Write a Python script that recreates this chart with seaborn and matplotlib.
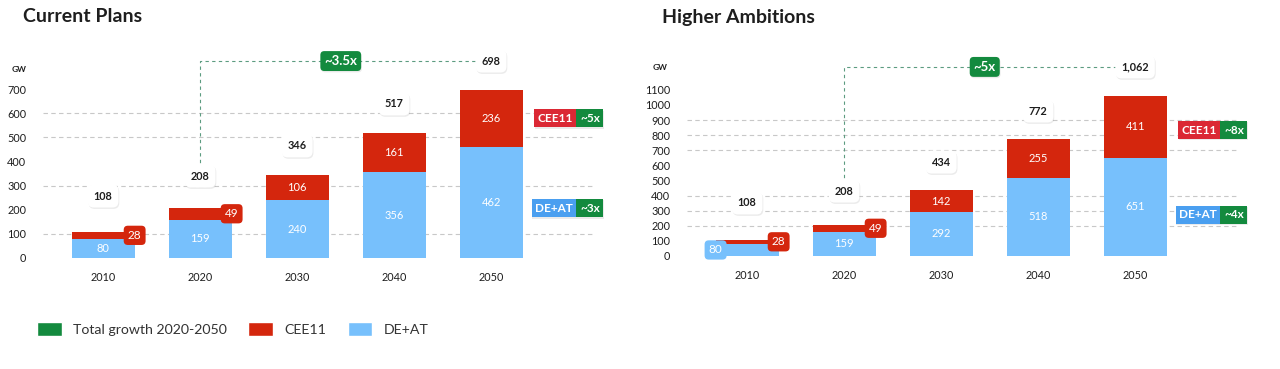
import matplotlib
matplotlib.use("Agg")
import matplotlib.pyplot as plt
import matplotlib.patheffects as pe
from matplotlib.patches import Patch
import seaborn as sns
import pandas as pd

# ---- data ----
years = ["2010", "2020", "2030", "2040", "2050"]

cp_deat = [80, 159, 240, 356, 462]
cp_cee = [28, 49, 106, 161, 236]
cp_total = [108, 208, 346, 517, 698]
cp_growth = ["~3.5x", "~5x", "~3x"]   # total, CEE11, DE+AT

ha_deat = [80, 159, 292, 518, 651]
ha_cee = [28, 49, 142, 255, 411]
ha_total = [108, 208, 434, 772, 1062]
ha_growth = ["~5x", "~8x", "~4x"]

GREEN = "#138a3e"
RED = "#d4260d"
BLUE = "#77c0fc"
RED_TAG = "#db2834"
BLUE_TAG = "#4a9ff0"
INK = "#1e1e1e"


def shadow(t):
    t.get_bbox_patch().set_path_effects(
        [pe.SimplePatchShadow(offset=(0.6, -1.0), alpha=0.08, shadow_rgbFace="#000000"), pe.Normal()])


def tag(ax, x, y, s, fc, fg="white", size=7.5, weight="normal", ha="center", dx=0, pad=0.35, z=6, box="round"):
    t = ax.annotate(s, (x, y), xytext=(dx, 0), textcoords="offset points", ha=ha, va="center",
                    size=size, color=fg, weight=weight, zorder=z, annotation_clip=False,
                    bbox=dict(boxstyle=f"{box},pad={pad}", fc=fc, ec="none"))
    return t


def panel(ax, deat, cee, total, growth, ymax, yticks, grid_vals, lift, side_y):
    df = pd.DataFrame({"year": years, "deat": deat, "total": total})
    sns.barplot(data=df, x="year", y="total", color=RED, saturation=1, width=0.65,
                linewidth=0, ax=ax, zorder=2)
    sns.barplot(data=df, x="year", y="deat", color=BLUE, saturation=1, width=0.65,
                linewidth=0, ax=ax, zorder=2)
    ax.set_xlim(-0.62, 5.15)
    ax.set_ylim(0, ymax)
    ax.set_yticks(yticks)
    ax.set_xlabel("")
    ax.set_ylabel("")
    ax.tick_params(axis="y", length=0, labelsize=7.8, pad=12, labelcolor=INK)
    ax.tick_params(axis="x", length=0, labelsize=7.8, pad=10, labelcolor=INK)
    sns.despine(ax=ax, left=True, bottom=True)
    ax.grid(False)

    ax.hlines(grid_vals, -0.62, 5.07, colors="#c8c8c8", linestyles=(0, (4, 3)), lw=0.8, zorder=0)

    for i in range(len(years)):
        d, c = deat[i], cee[i]
        if d / ymax >= 0.075:
            ax.text(i, d / 2, str(d), color="white", ha="center", va="center", size=8, zorder=4)
        else:
            tag(ax, i - 0.325, d / 2, str(d), BLUE, size=8.5, z=5)
        if c / ymax >= 0.075:
            ax.text(i, d + c / 2, str(c), color="white", ha="center", va="center", size=8, zorder=4)
        else:
            tag(ax, i + 0.325, d + c / 2, str(c), RED, size=8.5, z=6)
        t = tag(ax, i, total[i] + lift[i], f"{total[i]:,}", "white", fg=INK, size=7.8,
                weight="bold", pad=0.55, z=7)
        shadow(t)

    # growth connector 2020 -> 2050
    y0 = total[1] + lift[1]
    y1 = total[-1] + lift[-1]
    ax.plot([1, 1, 4], [y0, y1, y1], color="#5c9c80", lw=0.8, dashes=(3, 3), zorder=1, clip_on=False)
    t = tag(ax, 2.45, y1, growth[0], GREEN, size=9.5, weight="bold", pad=0.3, z=7)
    shadow(t)

    # side labels
    p = 0.3 * 8.5
    for (label, fc), yv, g in zip([("CEE11", RED_TAG), ("DE+AT", BLUE_TAG)], side_y, growth[1:]):
        t1 = tag(ax, 4.88, yv, label, fc, size=8.5, weight="bold", ha="right", dx=-p, pad=0.3, box="square")
        t2 = tag(ax, 4.88, yv, g, GREEN, size=8.5, weight="bold", ha="left", dx=p, pad=0.3, box="square")
        shadow(t1)
        shadow(t2)


sns.set_theme(style="white")
plt.rcParams["font.family"] = ["Lato", "DejaVu Sans"]

fig = plt.figure(figsize=(12.8, 3.69), dpi=100)
W, H = 1280, 369
ax1 = fig.add_axes([43 / W, 111 / H, 559.6 / W, 204.9 / H])
ax2 = fig.add_axes([687 / W, 113 / H, 559.6 / W, 203.9 / H])

panel(ax1, cp_deat, cp_cee, cp_total, cp_growth, 850, range(0, 701, 100),
      [100, 300, 500, 600], [149, 132, 119, 122, 119], [580, 207])
panel(ax2, ha_deat, ha_cee, ha_total, ha_growth, 1350, range(0, 1101, 100),
      [200, 300, 400, 700, 800, 900], [243, 222, 188, 188, 190], [834, 272])

fig.text(23 / W, 1 - 17 / H, "Current Plans", size=14, weight="bold", color=INK, va="center")
fig.text(662 / W, 1 - 17 / H, "Higher Ambitions", size=14, weight="bold", color=INK, va="center")
fig.text(19 / W, 1 - 70 / H, "GW", size=6, weight="bold", color=INK, ha="center", va="center")
fig.text(660 / W, 1 - 68 / H, "GW", size=6, weight="bold", color=INK, ha="center", va="center")

handles = [Patch(fc=GREEN, label="Total growth 2020-2050"),
           Patch(fc=RED, label="CEE11"),
           Patch(fc=BLUE, label="DE+AT")]
leg = fig.legend(handles=handles, loc="center left", bbox_to_anchor=(37 / W, 1 - 329 / H),
                 ncol=3, frameon=False, fontsize=10.2, handlelength=1.75, handleheight=1.25,
                 handletextpad=0.8, columnspacing=1.5, borderaxespad=0, borderpad=0)
for txt in leg.get_texts():
    txt.set_color("#333333")

fig.savefig("out.png", dpi=100)
